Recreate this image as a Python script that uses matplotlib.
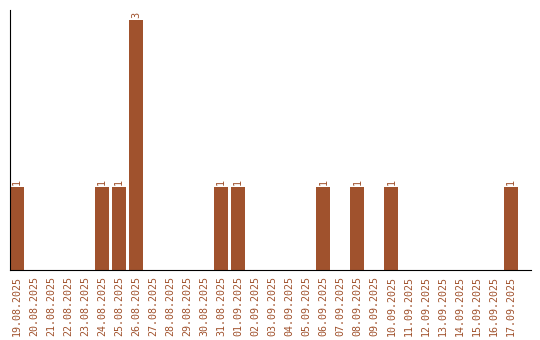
import matplotlib
matplotlib.use("Agg")
import matplotlib.pyplot as plt

dates = ["19.08.2025", "20.08.2025", "21.08.2025", "22.08.2025", "23.08.2025",
         "24.08.2025", "25.08.2025", "26.08.2025", "27.08.2025", "28.08.2025",
         "29.08.2025", "30.08.2025", "31.08.2025", "01.09.2025", "02.09.2025",
         "03.09.2025", "04.09.2025", "05.09.2025", "06.09.2025", "07.09.2025",
         "08.09.2025", "09.09.2025", "10.09.2025", "11.09.2025", "12.09.2025",
         "13.09.2025", "14.09.2025", "15.09.2025", "16.09.2025", "17.09.2025"]
counts = [1, 0, 0, 0, 0, 1, 1, 3, 0, 0, 0, 0, 1, 1, 0,
          0, 0, 0, 1, 0, 1, 0, 1, 0, 0, 0, 0, 0, 0, 1]

col = "#a0522d"

fig = plt.figure(figsize=(5.4, 3.4), dpi=100)
ax = fig.add_axes([10/540, 70/340, 521/540, 260/340])

x = range(len(dates))
ax.bar(x, counts, width=0.82, color=col)
for i, c in enumerate(counts):
    if c > 0:
        ax.text(i, c + 0.02, str(c), rotation=90, ha="center", va="bottom",
                color=col, fontsize=7.4, family="DejaVu Sans Mono")

ax.set_xlim(-0.41, 30.2)
ax.set_ylim(0, 3.12)
ax.set_xticks(list(x))
ax.set_xticklabels(dates, rotation=90, color=col, fontsize=7.2, family="DejaVu Sans Mono")
ax.tick_params(axis="x", length=0, pad=4)
ax.set_yticks([])
ax.spines["top"].set_visible(False)
ax.spines["right"].set_visible(False)

fig.savefig("out.png", dpi=100)
